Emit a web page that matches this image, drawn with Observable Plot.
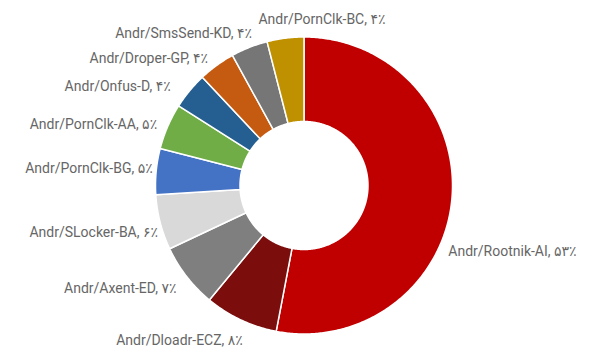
<!DOCTYPE html>
<html><head><meta charset="utf-8">
<script src="https://cdn.jsdelivr.net/npm/d3@7"></script>
<script src="https://cdn.jsdelivr.net/npm/@observablehq/plot@0.6"></script>
<style>
body{margin:0;background:#fff;}
#chart{width:594px;height:349px;}
</style></head>
<body><div id="chart"></div>
<script>
const names = ["Andr/Rootnik-AI","Andr/Dloadr-ECZ","Andr/Axent-ED","Andr/SLocker-BA","Andr/PornClk-BG","Andr/PornClk-AA","Andr/Onfus-D","Andr/Droper-GP","Andr/SmsSend-KD","Andr/PornClk-BC"];
const values = [53,8,7,6,5,5,4,4,4,4];
const percentLabels = ["۵۳٪","۸٪","۷٪","۶٪","۵٪","۵٪","۴٪","۴٪","۴٪","۴٪"];
const colors = ["#c00000","#7b0d0d","#7f7f7f","#d9d9d9","#4472c4","#70ad47","#255e91","#c55a11","#767676","#bf9000"];

const W = 594, H = 349, cx = 303.5, cy = 185, R = 148.5, r0 = 64;
const inner = r0 / R;
const total = d3.sum(values);
// clockwise from 12 o'clock
let acc = 0;
const slices = names.map((n, i) => {
  const a0 = acc / total * 2 * Math.PI;
  acc += values[i];
  const a1 = acc / total * 2 * Math.PI;
  return {name: n, value: values[i], label: `${n}, ${percentLabels[i]}`, a0, a1, mid: (a0 + a1) / 2};
});
const pts = [];
for (const s of slices) {
  const steps = Math.max(4, Math.ceil((s.a1 - s.a0) / 0.01));
  for (let k = 0; k <= steps; k++) {
    const a = s.a0 + (s.a1 - s.a0) * k / steps;
    pts.push({name: s.name, x: Math.sin(a), y: Math.cos(a)});
  }
  for (let k = steps; k >= 0; k--) {
    const a = s.a0 + (s.a1 - s.a0) * k / steps;
    pts.push({name: s.name, x: inner * Math.sin(a), y: inner * Math.cos(a)});
  }
}
const labelR = 160 / R;
// per-label nudges in pixels (layout only)
const adjust = {
  "Andr/Rootnik-AI": {dx: -15, dy: 51, anchor: "start"},
  "Andr/PornClk-BC": {dx: 38, dy: -7, anchor: "middle"},
  "Andr/SmsSend-KD": {dx: 7, dy: -3, anchor: "end"},
  "Andr/Droper-GP": {dx: -2, dy: 2, anchor: "end"},
  "Andr/Onfus-D": {dx: -10, dy: 3, anchor: "end"},
  "Andr/PornClk-AA": {dx: 0, dy: 3, anchor: "end"},
  "Andr/PornClk-BG": {dx: 8, dy: -2, anchor: "end"},
  "Andr/SLocker-BA": {dx: 9, dy: 7, anchor: "end"},
  "Andr/Axent-ED": {dx: -1, dy: 5, anchor: "end"},
  "Andr/Dloadr-ECZ": {dx: 7, dy: 10, anchor: "end"}
};
const labels = slices.map(s => {
  const adj = adjust[s.name] || {dx: 0, dy: 0, anchor: Math.sin(s.mid) < 0 ? "end" : "start"};
  return {label: s.label, x: labelR * Math.sin(s.mid) + adj.dx / R, y: labelR * Math.cos(s.mid) - adj.dy / R, anchor: adj.anchor};
});

const chart = Plot.plot({
  width: W, height: H,
  margin: 0,
  style: {fontFamily: "Roboto, 'DejaVu Sans', sans-serif", background: "#fff"},
  x: {domain: [-cx / R, (W - cx) / R], range: [0, W], axis: null},
  y: {domain: [-(H - cy) / R, cy / R], range: [H, 0], axis: null},
  color: {domain: names, range: colors},
  marks: [
    Plot.line(pts, {x: "x", y: "y", z: "name", fill: "name", stroke: "#fff", strokeWidth: 1.5, curve: "linear-closed"}),
    ...["start", "middle", "end"].map(a => Plot.text(labels.filter(d => d.anchor === a), {
      x: "x", y: "y", text: "label", textAnchor: a,
      fill: "#666", fontSize: 14
    }))
  ]
});
document.getElementById("chart").appendChild(chart);
</script>
</body></html>
